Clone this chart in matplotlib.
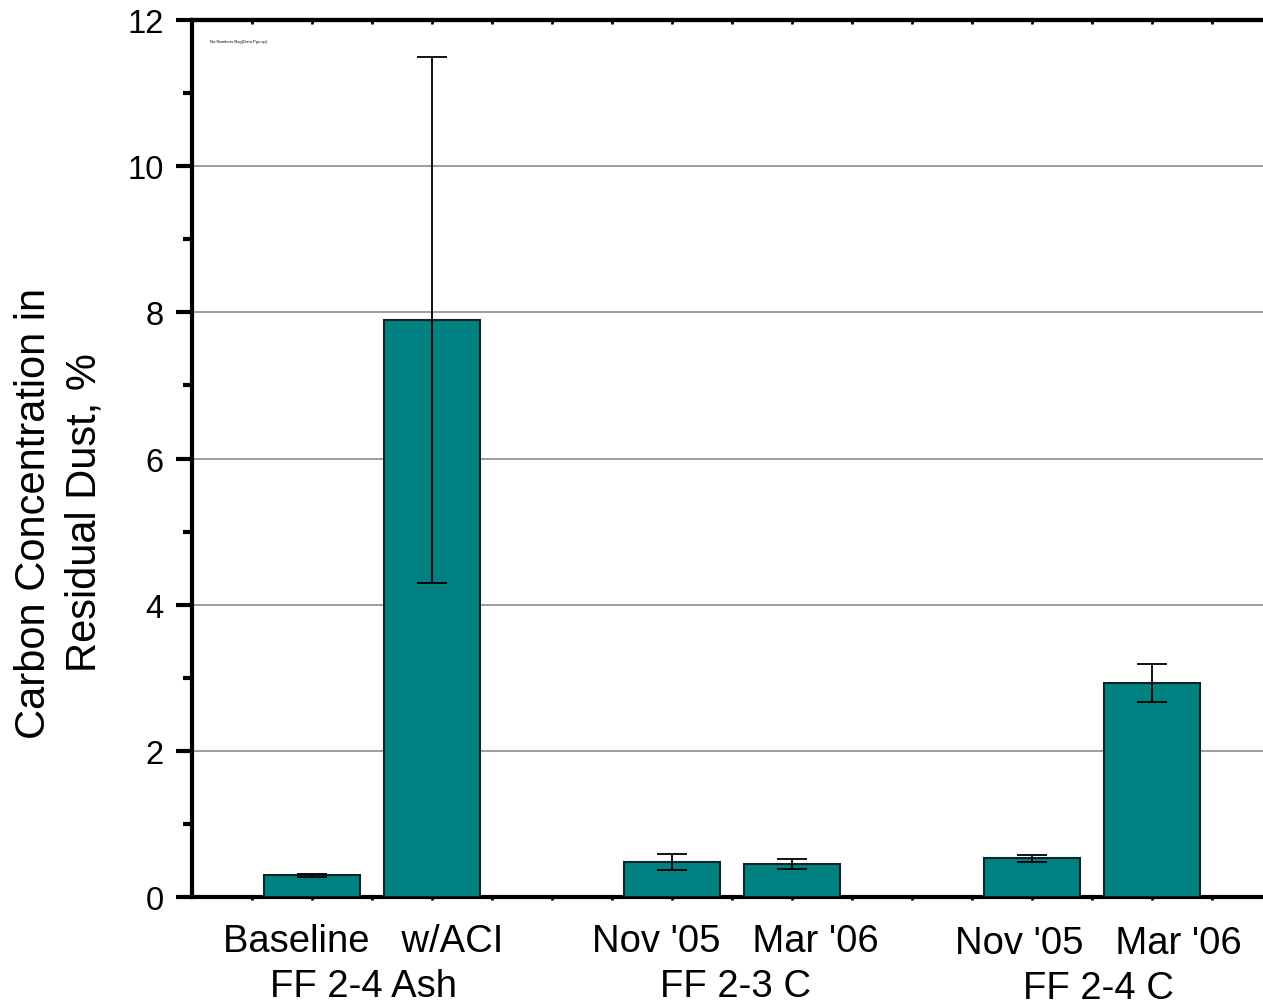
import matplotlib.pyplot as plt
import numpy as np

# bar data
bar_labels = ['Baseline', 'w/ACI', "Nov '05", "Mar '06", "Nov '05", "Mar '06"]
group_labels = ['FF 2-4 Ash', 'FF 2-3 C', 'FF 2-4 C']
carbon = [0.30, 7.90, 0.48, 0.45, 0.53, 2.93]
carbon_err = [0.02, 3.60, 0.11, 0.065, 0.05, 0.26]
positions = [1, 2, 4, 5, 7, 8]

plt.rcParams['font.family'] = ['Liberation Sans', 'DejaVu Sans']

fig = plt.figure(figsize=(12.63, 10.03), dpi=100)
ax = fig.add_axes([0.152, 0.1047, 0.848, 0.8743])

ax.bar(positions, carbon, width=0.8, color='#008080', edgecolor='#0a2626',
       linewidth=1.5, zorder=3)
ax.errorbar(positions, carbon, yerr=carbon_err, fmt='none', ecolor='black',
            elinewidth=1.3, capsize=11, capthick=1.3, zorder=4)

ax.set_xlim(0, 8.925)
ax.set_ylim(0, 12)
ax.set_yticks(np.arange(0, 13, 2))
ax.set_yticks(np.arange(1, 12, 2), minor=True)
ax.set_xticks(np.arange(0.5, 9, 0.5))
ax.set_xticklabels([])
ax.grid(axis='y', which='major', color='#8c8c8c', linewidth=1.2, zorder=0)

ax.tick_params(axis='y', which='major', direction='out', length=11.5, width=3,
               labelsize=23.5, pad=9)
ax.tick_params(axis='y', which='minor', direction='out', length=6.5, width=3)
ax.tick_params(axis='x', which='major', direction='out', length=2, width=2)

top = ax.secondary_xaxis('top')
top.set_xticks(np.arange(0.5, 9, 0.5))
top.set_xticklabels([])
top.tick_params(direction='in', length=3, width=2)

for side in ['left', 'bottom', 'top']:
    ax.spines[side].set_linewidth(3)
ax.spines['right'].set_visible(False)
top.spines['top'].set_linewidth(3)

# category labels: one line per group, then the group name below
label_shift = [-0.07, 0.03, 0.05]
for i, g in enumerate(group_labels):
    cx = (positions[2 * i] + positions[2 * i + 1]) / 2 + label_shift[i]
    pair = bar_labels[2 * i] + '   ' + bar_labels[2 * i + 1]
    dy = -0.03 if i == 2 else 0
    ax.text(cx, -0.6 + dy, pair, ha='center', va='center', fontsize=27.5)
    ax.text(cx, -1.22 + dy, g, ha='center', va='center', fontsize=27.5)

fig.text(59 / 1263, 1 - 513 / 1003, 'Carbon Concentration in\nResidual Dust, %',
         rotation=90, ha='center', va='center', fontsize=30, linespacing=1.33)

ax.text(0.15, 11.7, 'No Numbers Bsg(Data Pgs.xp)', fontsize=3)

fig.savefig('out.png', dpi=100)
